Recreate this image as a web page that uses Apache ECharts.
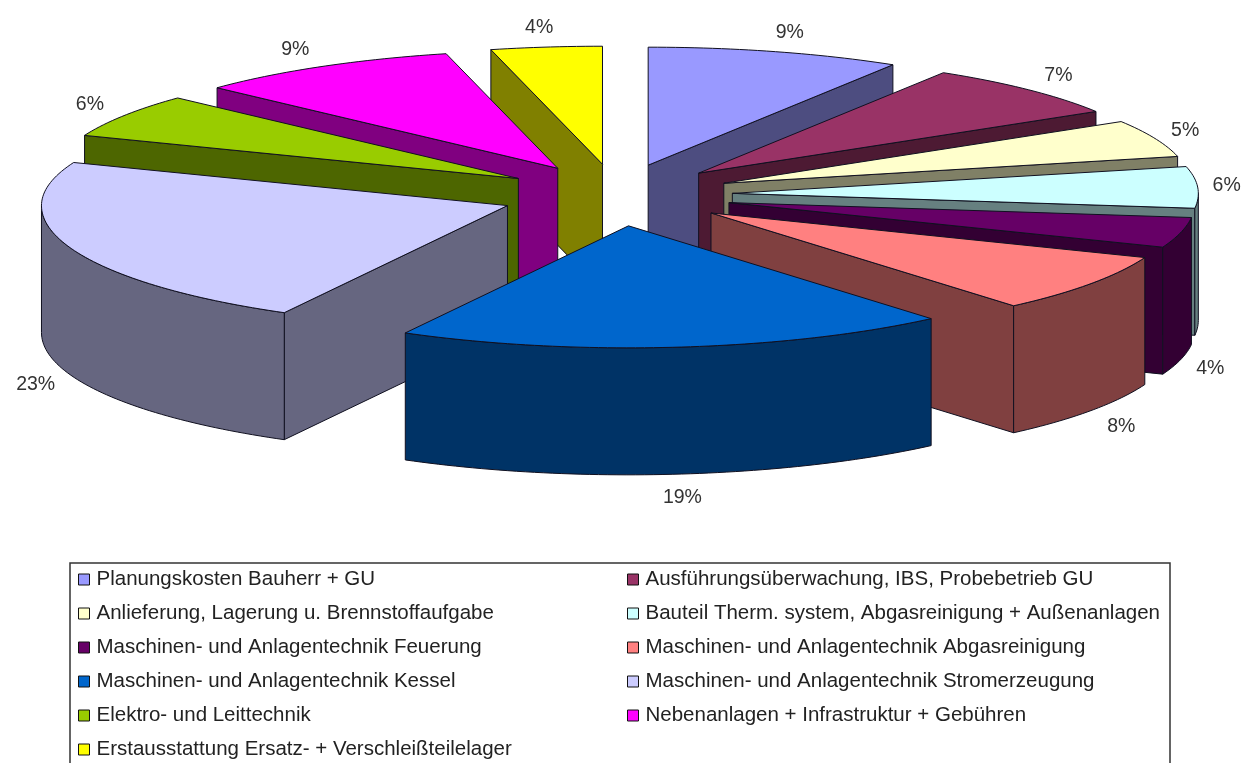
<!DOCTYPE html>
<html>
<head>
<meta charset="utf-8">
<style>html,body{margin:0;padding:0;background:#fff}#main{width:1252px;height:763px}</style>
<script src="https://cdn.jsdelivr.net/npm/echarts@6/dist/echarts.min.js"></script>
</head>
<body>
<div id="main"></div>
<script>
// Kostenverteilung, 3D-Torte mit herausgezogenen Stuecken
var categories = [
	'Planungskosten Bauherr + GU',
	'Ausführungsüberwachung, IBS, Probebetrieb GU',
	'Anlieferung, Lagerung u. Brennstoffaufgabe',
	'Bauteil Therm. system, Abgasreinigung + Außenanlagen',
	'Maschinen- und Anlagentechnik Feuerung',
	'Maschinen- und Anlagentechnik Abgasreinigung',
	'Maschinen- und Anlagentechnik Kessel',
	'Maschinen- und Anlagentechnik Stromerzeugung',
	'Elektro- und Leittechnik',
	'Nebenanlagen + Infrastruktur + Gebühren',
	'Erstausstattung Ersatz- + Verschleißteilelager'
];
var values = [8.8, 7.45, 5.1, 5.6, 4, 7.8, 19.2, 23, 6, 9.2, 3.85];
var topColors = ['#9999FF', '#993366', '#FFFFCC', '#CCFFFF', '#660066', '#FF8080', '#0066CC', '#CCCCFF', '#99CC00', '#FF00FF', '#FFFF00'];
var sideColors = ['#4D4D80', '#4D1A33', '#808066', '#668080', '#330033', '#804040', '#003366', '#666680', '#4D6600', '#800080', '#808000'];

var CX = 616.5, CY = 195;   // Mitte der Torte
var RX = 466;               // Ellipse der Oberseite
var RY_BACK = 118, RY_FRONT = 122;
var DEPTH = 127;            // Hoehe der Stuecke
var EXPLODE_X = 116, EXPLODE_Y = 31;
var LABEL_FONT = '19.5px "Liberation Sans", Arial, sans-serif';

var total = 0;
for (var i = 0; i < values.length; i++) total += values[i];
var startAngle = [], endAngle = [];
var sum = 0;
for (var i = 0; i < values.length; i++) {
	startAngle[i] = sum / total * Math.PI * 2;
	sum += values[i];
	endAngle[i] = sum / total * Math.PI * 2;
}

// winkel im Uhrzeigersinn ab 12 Uhr
function apex(i) {
	var mid = (startAngle[i] + endAngle[i]) / 2;
	return [CX + Math.sin(mid) * EXPLODE_X, CY - Math.cos(mid) * EXPLODE_Y];
}
function rim(i, a) {
	var p = apex(i);
	var c = Math.cos(a);
	return [p[0] + Math.sin(a) * RX, p[1] - c * (c < 0 ? RY_FRONT : RY_BACK)];
}
function down(p) {
	return [p[0], p[1] + DEPTH];
}
function arcPoints(i, a0, a1) {
	var pts = [];
	var n = Math.max(2, Math.ceil((a1 - a0) / 0.02));
	for (var k = 0; k <= n; k++) pts.push(rim(i, a0 + (a1 - a0) * k / n));
	return pts;
}
function poly(points, fill) {
	return {
		type: 'polygon',
		shape: { points: points },
		style: { fill: fill, stroke: '#101020', lineWidth: 1, lineJoin: 'round' }
	};
}
function wall(top, fill) {
	return poly(top.concat(top.map(down).reverse()), fill);
}

function renderSlice(i) {
	var a0 = startAngle[i], a1 = endAngle[i];
	var mid = (a0 + a1) / 2;
	var p = apex(i);
	var kids = [];
	// radiale Waende
	if (Math.sin(a0) < -1e-6) kids.push(wall([p, rim(i, a0)], sideColors[i]));
	if (Math.sin(a1) > 1e-6) kids.push(wall([p, rim(i, a1)], sideColors[i]));
	// aussenwand nur vorne sichtbar
	var w0 = Math.max(a0, Math.PI / 2), w1 = Math.min(a1, Math.PI * 1.5);
	if (w1 > w0) kids.push(wall(arcPoints(i, w0, w1), sideColors[i]));
	// oberseite
	kids.push(poly([p].concat(arcPoints(i, a0, a1)), topColors[i]));
	// beschriftung
	var q = rim(i, mid);
	var s = Math.sin(mid), c = Math.cos(mid);
	kids.push({
		type: 'text',
		style: {
			text: Math.round(values[i] / total * 100) + '%',
			x: q[0] + s * (s > 0 ? 29 : 33) + 26 * s * c * c,
			y: q[1] - c * 20 + (c < 0 ? DEPTH + 4 : 0),
			fill: '#333',
			font: LABEL_FONT,
			align: 'center',
			verticalAlign: 'middle'
		}
	});
	return { type: 'group', children: kids };
}

// hinten zuerst zeichnen
function drawRank(i) {
	var rank = 0;
	var c = Math.cos((startAngle[i] + endAngle[i]) / 2);
	for (var j = 0; j < values.length; j++) {
		if (Math.cos((startAngle[j] + endAngle[j]) / 2) > c) rank++;
	}
	return rank;
}

var series = [];
categories.forEach(function (name, i) {
	series.push({
		name: name,
		type: 'custom',
		coordinateSystem: 'none',
		silent: true,
		z: 2 + drawRank(i),
		itemStyle: { color: topColors[i] },
		data: [[values[i]]],
		renderItem: function () { return renderSlice(i); }
	});
});

function legendColumn(left, names) {
	return {
		left: left,
		top: 569,
		orient: 'vertical',
		icon: 'rect',
		itemWidth: 11,
		itemHeight: 11,
		itemGap: 13,
		selectedMode: false,
		padding: 0,
		itemStyle: { borderColor: '#111', borderWidth: 1 },
		textStyle: { fontFamily: '"Liberation Sans", Arial, sans-serif', fontSize: 20.5, lineHeight: 20, color: '#222', padding: [0, 0, 0, 2] },
		data: names
	};
}

var chart = echarts.init(document.getElementById('main'));
chart.setOption({
	backgroundColor: '#fff',
	animation: false,
	legend: [
		legendColumn(78, categories.filter(function (c, i) { return i % 2 == 0; })),
		legendColumn(627, categories.filter(function (c, i) { return i % 2 == 1; }))
	],
	graphic: [{
		type: 'rect',
		z: 0,
		shape: { x: 70, y: 563, width: 1100, height: 220 },
		style: { fill: '#fff', stroke: '#333', lineWidth: 1.5 }
	}],
	series: series
});
</script>
</body>
</html>
